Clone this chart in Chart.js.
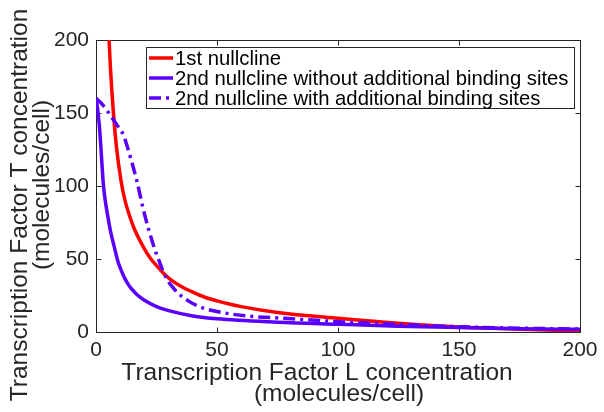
<!DOCTYPE html>
<html>
<head>
<meta charset="utf-8">
<script src="https://cdn.jsdelivr.net/npm/chart.js@4.4.0/dist/chart.umd.min.js"></script>
<style>
  html, body { margin: 0; padding: 0; background: #fff; }
</style>
</head>
<body>
<canvas id="chart-1" width="604" height="412"></canvas>
<script>
const xTicks = [0, 50, 100, 150, 200];
const yTicks = [0, 50, 100, 150, 200];

const seriesLabels = [
  "1st nullcline",
  "2nd nullcline without additional binding sites",
  "2nd nullcline with additional binding sites",
];

// 1st nullcline (red)
const redL = [5, 5.4, 6, 7.2, 8.5, 10.3, 12, 13.8, 16, 20, 22.7, 25, 28.9, 32, 36, 40, 45, 50, 55, 60, 75, 100, 125, 150, 175, 200];
const redT = [215, 200, 180, 150, 126, 104, 90, 80, 70, 57, 50, 45.5, 38.5, 34.5, 30.5, 27.3, 23.8, 21.3, 19.2, 17.4, 13.4, 9.4, 6.0, 3.4, 1.9, 0.7];

// 2nd nullcline without additional binding sites (solid blue)
const blueL = [0, 0.5, 1, 1.5, 2, 2.5, 3, 3.5, 4, 4.8, 6, 7.6, 9, 10, 11, 12, 13, 14, 15.2, 17, 20, 25, 30, 40, 50, 75, 100, 125, 150, 175, 200];
const blueT = [160, 155, 148, 139, 127, 114, 102, 94, 88, 80, 69, 58, 48.7, 44, 40, 36.4, 33.5, 31, 28.6, 25.5, 21.7, 17.4, 14.6, 11, 9, 6.7, 5.3, 4.0, 3.0, 2.3, 1.8];

// 2nd nullcline with additional binding sites (dash-dot blue)
const dashL = [0, 2, 4, 6.5, 9, 11.3, 14, 16.8, 20, 24, 26, 29, 32, 35, 37.5, 40, 45, 50, 62, 77.7, 100, 125, 150, 175, 200];
const dashT = [160, 157, 153, 147, 141, 135, 121, 104, 81, 58, 49, 37, 30, 25, 22, 19.5, 16, 14, 11, 9.4, 7.1, 5.2, 3.6, 2.6, 2.0];

const xTitle = ["Transcription Factor L concentration", "(molecules/cell)"];
const yTitle = ["Transcription Factor T concentration", "(molecules/cell)"];

const FONT = "'Liberation Sans', Arial, Helvetica, sans-serif";
const AXIS = "#262626";
const RED = "#ff0000";
const BLUE = "#5a00ff";

const toPoints = (xs, ys) => xs.map((x, i) => ({ x: x, y: ys[i] }));

// box around the axes with inward ticks
const framePlugin = {
  id: "frame",
  beforeDatasetsDraw(chart) {
    const { ctx, chartArea: a, scales } = chart;
    const l = Math.round(a.left) + 0.5, r = Math.round(a.right) + 0.5;
    const t = Math.round(a.top) + 0.5, b = Math.round(a.bottom) + 0.5;
    ctx.save();
    ctx.strokeStyle = AXIS;
    ctx.lineWidth = 1;
    ctx.strokeRect(l, t, r - l, b - t);
    ctx.beginPath();
    xTicks.forEach((v) => {
      const px = Math.round(scales.x.getPixelForValue(v)) + 0.5;
      ctx.moveTo(px, b); ctx.lineTo(px, b - 5);
      ctx.moveTo(px, t); ctx.lineTo(px, t + 5);
    });
    yTicks.forEach((v) => {
      const py = Math.round(scales.y.getPixelForValue(v)) + 0.5;
      ctx.moveTo(l, py); ctx.lineTo(l + 5, py);
      ctx.moveTo(r, py); ctx.lineTo(r - 5, py);
    });
    ctx.stroke();
    ctx.restore();
  },
};

const legendPlugin = {
  id: "boxLegend",
  afterDatasetsDraw(chart) {
    const ctx = chart.ctx;
    ctx.save();
    ctx.fillStyle = "#fff";
    ctx.fillRect(146.5, 47.5, 428, 61);
    ctx.strokeStyle = AXIS;
    ctx.lineWidth = 1;
    ctx.strokeRect(146.5, 47.5, 428, 61);
    chart.data.datasets.forEach((ds, i) => {
      const y = 58 + i * 20;
      ctx.strokeStyle = ds.borderColor;
      ctx.lineWidth = ds.borderWidth;
      ctx.setLineDash(ds.borderDash || []);
      ctx.beginPath();
      ctx.moveTo(149, y);
      ctx.lineTo(173, y);
      ctx.stroke();
      ctx.setLineDash([]);
      ctx.fillStyle = "#000";
      ctx.font = "20.3px " + FONT;
      ctx.textAlign = "left";
      ctx.textBaseline = "alphabetic";
      ctx.fillText(ds.label, 175, y + 7);
    });
    ctx.restore();
  },
};

const titlePlugin = {
  id: "axisTitles",
  afterDraw(chart) {
    const ctx = chart.ctx;
    ctx.save();
    ctx.fillStyle = AXIS;
    ctx.font = "24.5px " + FONT;
    ctx.textAlign = "center";
    ctx.textBaseline = "alphabetic";
    ctx.fillText(xTitle[0], 317, 380);
    ctx.fillText(xTitle[1], 339, 401);
    ctx.save();
    ctx.translate(27, 205);
    ctx.rotate(-Math.PI / 2);
    ctx.fillText(yTitle[0], 0, 0);
    ctx.restore();
    ctx.translate(49, 185);
    ctx.rotate(-Math.PI / 2);
    ctx.fillText(yTitle[1], 0, 0);
    ctx.restore();
  },
};

new Chart(document.getElementById("chart-1"), {
  type: "line",
  data: {
    datasets: [
      {
        label: seriesLabels[0],
        data: toPoints(redL, redT),
        borderColor: RED,
        borderWidth: 3.5,
        pointRadius: 0,
        cubicInterpolationMode: "monotone",
        order: 2,
      },
      {
        label: seriesLabels[1],
        data: toPoints(blueL, blueT),
        borderColor: BLUE,
        borderWidth: 3.5,
        pointRadius: 0,
        cubicInterpolationMode: "monotone",
        order: 1,
      },
      {
        label: seriesLabels[2],
        data: toPoints(dashL, dashT),
        borderColor: BLUE,
        borderWidth: 3.5,
        borderDash: [12, 5, 3, 5],
        pointRadius: 0,
        cubicInterpolationMode: "monotone",
        order: 0,
      },
    ],
  },
  options: {
    responsive: false,
    animation: false,
    layout: { padding: { top: 40, right: 24, left: 0, bottom: 0 } },
    plugins: {
      legend: { display: false },
      tooltip: { enabled: false },
    },
    scales: {
      x: {
        type: "linear",
        min: 0,
        max: 200,
        afterFit: (s) => { s.height = 80; },
        afterBuildTicks: (s) => { s.ticks = xTicks.map((v) => ({ value: v })); },
        grid: { display: false, drawTicks: false },
        border: { display: false },
        ticks: { font: { family: FONT, size: 21 }, color: AXIS, padding: 6, maxRotation: 0 },
      },
      y: {
        type: "linear",
        min: 0,
        max: 200,
        afterFit: (s) => { s.width = 96; },
        afterBuildTicks: (s) => { s.ticks = yTicks.map((v) => ({ value: v })); },
        grid: { display: false, drawTicks: false },
        border: { display: false },
        ticks: { font: { family: FONT, size: 21 }, color: AXIS, padding: 7 },
      },
    },
  },
  plugins: [framePlugin, legendPlugin, titlePlugin],
});
</script>
</body>
</html>
